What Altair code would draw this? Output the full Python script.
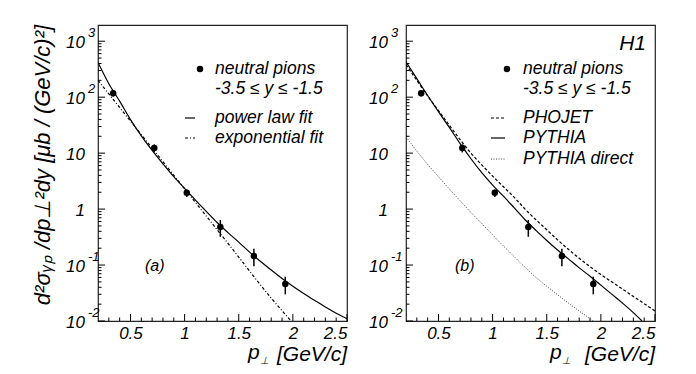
import altair as alt
import pandas as pd

# ---------------- data ----------------
pt_x = [0.34, 0.72, 1.02, 1.33, 1.64, 1.93]
pt_y = [118, 12.3, 1.95, 0.48, 0.145, 0.046]
pt_err = [15, 2.0, 0.3, 0.16, 0.05, 0.016]

curve_x = [0.2, 0.3, 0.4, 0.5, 0.6, 0.7, 0.8, 0.9, 1.0, 1.1, 1.2, 1.3,
           1.4, 1.5, 1.6, 1.7, 1.8, 1.9, 2.0, 2.1, 2.2, 2.3, 2.4, 2.5]
power_law = [417, 174, 85, 39.8, 20.4, 11.2, 6.46, 3.80, 2.34, 1.45, 0.912, 0.575,
             0.380, 0.257, 0.170, 0.117, 0.0813, 0.0575, 0.0417, 0.0309, 0.0234,
             0.0178, 0.0138, 0.0110]

exp_x = [0.2, 0.6, 1.0, 1.4, 1.8, 1.98]
exp_fit = [200, 21.4, 2.3, 0.245, 0.0257, 0.0102]

phojet = [380, 200, 105, 57.5, 31.6, 17.4, 10.0, 6.17, 3.89, 2.51, 1.62, 1.00,
          0.646, 0.427, 0.282, 0.191, 0.132, 0.0933, 0.0676, 0.0501, 0.0372,
          0.0275, 0.0204, 0.0151]

pythia_x = [0.2, 0.3, 0.4, 0.5, 0.6, 0.7, 0.8, 0.9, 1.0, 1.1, 1.2, 1.3,
            1.4, 1.5, 1.6, 1.7, 1.8, 1.9, 2.0, 2.1, 2.2, 2.3, 2.38]
pythia = [427, 214, 107, 55.0, 28.8, 14.8, 7.94, 4.47, 2.69, 1.70, 1.05, 0.646,
          0.417, 0.275, 0.186, 0.129, 0.0891, 0.0631, 0.0437, 0.0302, 0.0209,
          0.0141, 0.0100]

direct_x = [0.2, 0.3, 0.4, 0.5, 0.6, 0.7, 0.8, 0.9, 1.0, 1.1, 1.2, 1.3,
            1.4, 1.5, 1.6, 1.7, 1.8, 1.9, 1.93]
pythia_direct = [19.5, 10.9, 6.31, 3.80, 2.29, 1.41, 0.871, 0.550, 0.347, 0.219,
                 0.141, 0.0912, 0.0603, 0.0417, 0.0295, 0.0209, 0.0151, 0.0110, 0.0100]

x_major = [0.5, 1.0, 1.5, 2.0, 2.5]
x_minor = [0.3, 0.4, 0.6, 0.7, 0.8, 0.9, 1.1, 1.2, 1.3, 1.4, 1.6, 1.7, 1.8, 1.9,
           2.1, 2.2, 2.3, 2.4]
y_major = [0.01, 0.1, 1, 10, 100, 1000]
y_label_base = ["10", "10", "1", "10", "10", "10"]
y_label_sup = ["-2", "-1", "", "", "2", "3"]
y_minor = [0.02, 0.03, 0.04, 0.05, 0.06, 0.07, 0.08, 0.09,
           0.2, 0.3, 0.4, 0.5, 0.6, 0.7, 0.8, 0.9,
           2, 3, 4, 5, 6, 7, 8, 9,
           20, 30, 40, 50, 60, 70, 80, 90,
           200, 300, 400, 500, 600, 700, 800, 900]

legend_a = ["power law fit", "exponential fit"]
legend_b = ["PHOJET", "PYTHIA", "PYTHIA direct"]
data_label = ["neutral pions", "-3.5 ≤ y ≤ -1.5"]
y_title = "d²σᵧₚ /dp⊥²dy [μb / (GeV/c)²]"

# ---------------- styling ----------------
FONT = "Liberation Sans"
W, H = 249, 296
XS = alt.Scale(domain=[0.2, 2.5], nice=False, zero=False)
YS = alt.Scale(type="log", domain=[0.01, 1950], nice=False)

XA = alt.Axis(values=x_major, format="~g", ticks=False, domain=False, grid=False,
              labelFont=FONT, labelFontStyle="italic", labelFontSize=17,
              labelPadding=4, labelColor="black", title=None)

pts = pd.DataFrame({"x": pt_x, "y": pt_y,
                    "lo": [v - e for v, e in zip(pt_y, pt_err)],
                    "hi": [v + e for v, e in zip(pt_y, pt_err)]})
ylab = pd.DataFrame({"y": y_major, "base": y_label_base, "sup": y_label_sup})


def X(f="x"):
    return alt.X(f + ":Q", scale=XS, axis=XA)


def Y(f="y"):
    return alt.Y(f + ":Q", scale=YS, axis=None)


def txt(s, x, y, size=17.5, align="left", baseline="middle", angle=0):
    return alt.Chart(pd.DataFrame({"a": [0]})).mark_text(
        font=FONT, fontStyle="italic", fontSize=size, align=align,
        baseline=baseline, color="black", angle=angle).encode(
        x=alt.value(x), y=alt.value(y), text=alt.value(s))


def sym_line(x1, x2, y, dash=None, color="black"):
    kw = dict(color=color, strokeWidth=1.2)
    if dash:
        kw["strokeDash"] = dash
    return alt.Chart(pd.DataFrame({"a": [0]})).mark_rule(**kw).encode(
        x=alt.value(x1), x2=alt.value(x2), y=alt.value(y))


def sym_dot(x, y):
    return alt.Chart(pd.DataFrame({"a": [0]})).mark_circle(
        size=42, color="black", opacity=1).encode(x=alt.value(x), y=alt.value(y))


def build_panel(curves, legend_layers, label_x, ptitle_x):
    layers = []
    # inside ticks
    layers.append(alt.Chart(pd.DataFrame({"x": x_major})).mark_rule(color="black").encode(
        x=X(), y=alt.value(H), y2=alt.value(H - 7)))
    layers.append(alt.Chart(pd.DataFrame({"x": x_minor})).mark_rule(color="black").encode(
        x=X(), y=alt.value(H), y2=alt.value(H - 3.5)))
    layers.append(alt.Chart(pd.DataFrame({"y": y_major})).mark_rule(color="black").encode(
        y=Y(), x=alt.value(0), x2=alt.value(7)))
    layers.append(alt.Chart(pd.DataFrame({"y": y_minor})).mark_rule(color="black").encode(
        y=Y(), x=alt.value(0), x2=alt.value(3.5)))
    # y tick labels 10 + superscript
    layers.append(alt.Chart(ylab).mark_text(
        font=FONT, fontStyle="italic", fontSize=17, align="right", baseline="middle",
        dy=2, color="black").encode(y=Y(), x=alt.value(label_x), text="base:N"))
    layers.append(alt.Chart(ylab).mark_text(
        font=FONT, fontStyle="italic", fontSize=13, align="left", baseline="middle",
        dy=-8, color="black").encode(y=Y(), x=alt.value(label_x + 3), text="sup:N"))
    # curves
    for xv, yv, dash, color, width in curves:
        kw = dict(clip=True, interpolate="monotone", color=color, strokeWidth=width)
        if dash:
            kw["strokeDash"] = dash
        layers.append(alt.Chart(pd.DataFrame({"x": xv, "y": yv})).mark_line(**kw).encode(
            x=X(), y=Y()))
    # data
    layers.append(alt.Chart(pts).mark_rule(color="black", strokeWidth=1.5).encode(
        x=X(), y=Y("lo"), y2="hi:Q"))
    layers.append(alt.Chart(pts).mark_circle(size=42, color="black", opacity=1).encode(
        x=X(), y=Y()))
    # x title  p_perp [GeV/c]
    layers.append(txt("[GeV/c]", 249, 330, size=21, align="right"))
    layers.append(txt("p", ptitle_x, 328, size=21, align="left"))
    layers.append(txt("⊥", ptitle_x + 12, 336, size=10, align="left"))
    layers += legend_layers
    return alt.layer(*layers).properties(width=W, height=H)


ROWS = [44, 64, 93, 113, 134]

panel_a = build_panel(
    [(curve_x, power_law, None, "black", 1.2),
     (exp_x, exp_fit, [3, 2, 1, 2], "black", 1.2)],
    [sym_dot(102, ROWS[0]),
     txt(data_label[0], 117, ROWS[0]),
     txt(data_label[1], 117, ROWS[1]),
     sym_line(87, 97, ROWS[2]),
     txt(legend_a[0], 117, ROWS[2]),
     sym_line(87, 97, ROWS[3], dash=[3, 2, 1, 2]),
     txt(legend_a[1], 117, ROWS[3]),
     txt("(a)", 47, 241, size=16),
     txt(y_title, -55, 140, size=22, align="center", angle=270)],
    label_x=-13, ptitle_x=150)

panel_b = build_panel(
    [(curve_x, phojet, [3, 2], "black", 1.2),
     (pythia_x, pythia, None, "black", 1.2),
     (direct_x, pythia_direct, [1, 1.5], "#444", 1)],
    [sym_dot(101, ROWS[0]),
     txt(data_label[0], 117, ROWS[0]),
     txt(data_label[1], 117, ROWS[1]),
     sym_line(85, 99, ROWS[2], dash=[3, 2]),
     txt(legend_b[0], 117, ROWS[2]),
     sym_line(85, 99, ROWS[3]),
     txt(legend_b[1], 117, ROWS[3]),
     sym_line(85, 99, ROWS[4], dash=[1, 1.5], color="#444"),
     txt(legend_b[2], 117, ROWS[4]),
     txt("H1", 240, 19, size=21, align="right"),
     txt("(b)", 49, 241, size=16)],
    label_x=-18, ptitle_x=144)

chart = alt.hconcat(panel_a, panel_b, spacing=59, bounds="flush").properties(
    padding={"left": 23, "top": 16, "right": 5, "bottom": 5}
).configure_view(stroke="#222", strokeWidth=1.2)

chart.save("out.html", embed_options={"renderer": "svg", "actions": False})
